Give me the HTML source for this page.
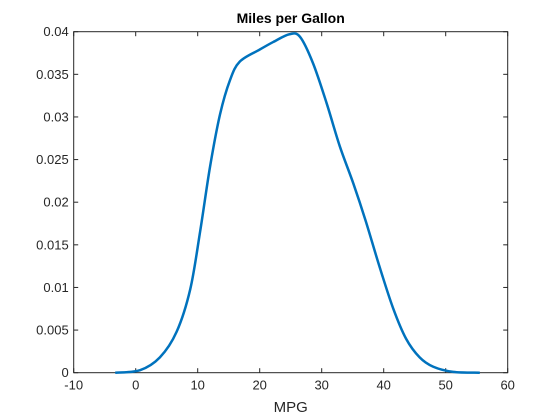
<!DOCTYPE html>
<html><head><meta charset="utf-8"><style>
body{margin:0;background:#fff;}
svg{display:block;font-family:"Liberation Sans",Arial,sans-serif;}
</style></head><body>
<svg id="chart" width="560" height="420" viewBox="0 0 560 420"></svg>
<script>
const xs=[-3.3,0.7,3.9,6.6,8.8,10.4,12,13.6,15.2,16.8,20,22.2,24.8,26.5,28.6,30.8,32.9,35.1,37.1,39.3,41.5,43.6,45.8,48,51.2,55.5];
const ys=[0,0.0003,0.0018,0.0048,0.0098,0.0166,0.0242,0.0303,0.0343,0.0365,0.0379,0.0388,0.0397,0.0394,0.0363,0.0316,0.0266,0.0222,0.0178,0.0125,0.0076,0.0040,0.0018,0.0007,0.0001,0];
const xTicks=[-10,0,10,20,30,40,50,60];
const yTicks=[0,0.005,0.01,0.015,0.02,0.025,0.03,0.035,0.04];
const L=73.7,R=507.7,T=31.7,B=372.7;
const X=v=>L+(v+10)/70*(R-L);
const Y=v=>B-v/0.04*(B-T);
const svg=document.getElementById('chart');
const NS='http://www.w3.org/2000/svg';
function mk(tag,attrs,parent){const e=document.createElementNS(NS,tag);for(const k in attrs)e.setAttribute(k,attrs[k]);(parent||svg).appendChild(e);return e;}
const box=mk('rect',{x:L,y:T,width:R-L,height:B-T,fill:'#fff',stroke:'#262626','stroke-width':1});


xTicks.forEach(t=>{
  const x=X(t);
  const g=mk('g',{});
  
  
  mk('line',{x1:x,x2:x,y1:B,y2:B-4.5,stroke:'#262626'},g);
  mk('line',{x1:x,x2:x,y1:T,y2:T+4.5,stroke:'#262626'},g);
  const tx=mk('text',{x:x,y:B+17,'text-anchor':'middle','font-size':13,fill:'#262626'},g);
  tx.textContent=String(t);
});
yTicks.forEach(t=>{
  const y=Y(t);
  const g=mk('g',{});
  
  
  mk('line',{x1:L,x2:L+4.5,y1:y,y2:y,stroke:'#262626'},g);
  mk('line',{x1:R,x2:R-4.5,y1:y,y2:y,stroke:'#262626'},g);
  const tx=mk('text',{x:L-5,y:y+4.5,'text-anchor':'end','font-size':13,fill:'#262626'},g);
  tx.textContent=String(t);
});
const pts=xs.map((v,i)=>[X(v),Y(ys[i])]);
let d='M'+pts[0][0]+','+pts[0][1];
for(let i=0;i<pts.length-1;i++){
  const p0=pts[i-1]||pts[i],p1=pts[i],p2=pts[i+1],p3=pts[i+2]||p2;
  const c1=[p1[0]+(p2[0]-p0[0])/6,p1[1]+(p2[1]-p0[1])/6];
  const c2=[p2[0]-(p3[0]-p1[0])/6,p2[1]-(p3[1]-p1[1])/6];
  d+=` C${c1[0]},${c1[1]} ${c2[0]},${c2[1]} ${p2[0]},${p2[1]}`;
}
const line=mk('path',{d:d,fill:'none',stroke:'#0072bd','stroke-width':2.5,'stroke-linejoin':'round'});


const title=mk('text',{x:(L+R)/2,y:23,'text-anchor':'middle','font-size':14,'font-weight':'bold',fill:'#000'});
title.textContent='Miles per Gallon';


const xl=mk('text',{x:(L+R)/2,y:412,'text-anchor':'middle','font-size':15,fill:'#262626'});
xl.textContent='MPG';


</script>
</body></html>
